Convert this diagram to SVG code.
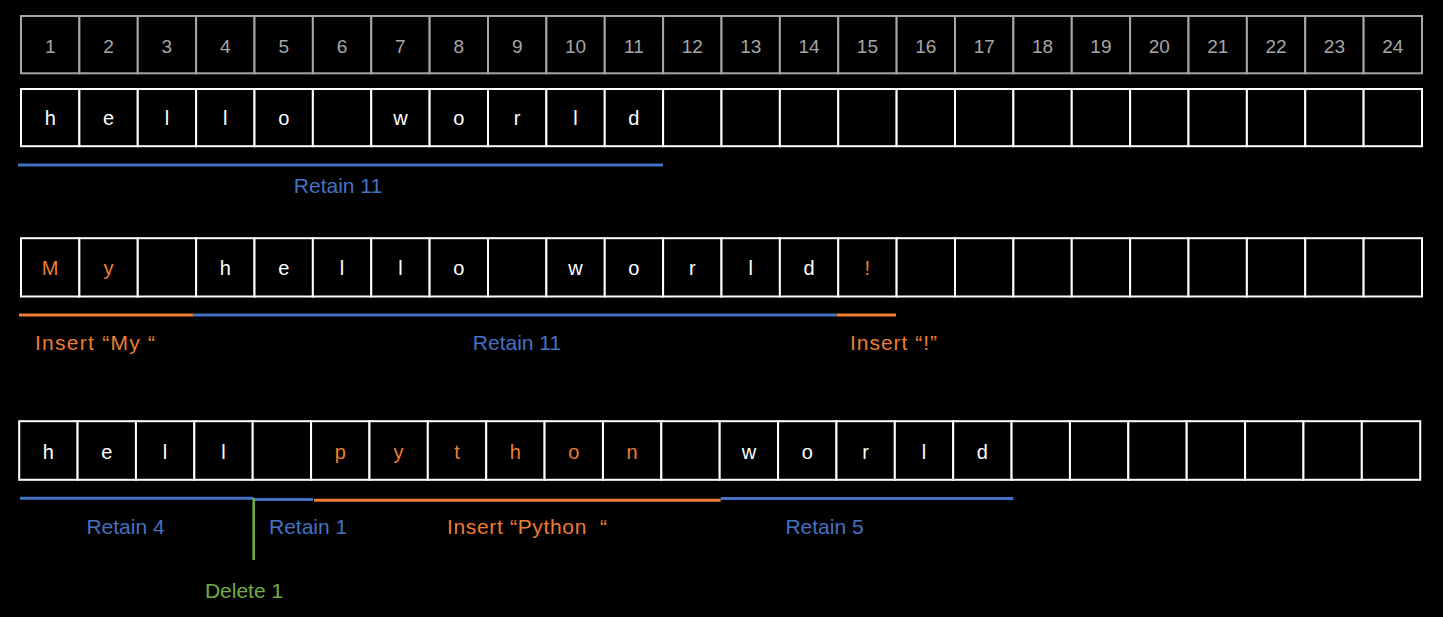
<svg xmlns="http://www.w3.org/2000/svg" width="1443" height="617" viewBox="0 0 1443 617">
<style>
.bg{fill:#000}
.c0{fill:#000;stroke:#a6a6a6;stroke-width:2}
.c{fill:#000;stroke:#fff;stroke-width:2}
.num{font-family:"Liberation Sans",Arial,sans-serif;font-size:19px;fill:#a6a6a6;text-anchor:middle}
.ch{font-family:"Liberation Sans",Arial,sans-serif;font-size:20px;fill:#fff;text-anchor:middle}
.o{fill:#ed7d31}
.lb{font-family:"Liberation Sans",Arial,sans-serif;font-size:21px;white-space:pre}
.tb{fill:#4472c4}
.to{fill:#ed7d31}
.tg{fill:#70ad47}
.lnb{stroke:#4472c4;stroke-width:3;fill:none}
.lno{stroke:#ed7d31;stroke-width:3;fill:none}
.lng{stroke:#70ad47;stroke-width:2.5;fill:none}
</style>
<rect class="bg" x="0" y="0" width="1443" height="617"/>

<g id="row-index">
<rect class="c0" x="21" y="16" width="58.375" height="57.3"/>
<rect class="c0" x="79.375" y="16" width="58.375" height="57.3"/>
<rect class="c0" x="137.75" y="16" width="58.375" height="57.3"/>
<rect class="c0" x="196.125" y="16" width="58.375" height="57.3"/>
<rect class="c0" x="254.5" y="16" width="58.375" height="57.3"/>
<rect class="c0" x="312.875" y="16" width="58.375" height="57.3"/>
<rect class="c0" x="371.25" y="16" width="58.375" height="57.3"/>
<rect class="c0" x="429.625" y="16" width="58.375" height="57.3"/>
<rect class="c0" x="488" y="16" width="58.375" height="57.3"/>
<rect class="c0" x="546.375" y="16" width="58.375" height="57.3"/>
<rect class="c0" x="604.75" y="16" width="58.375" height="57.3"/>
<rect class="c0" x="663.125" y="16" width="58.375" height="57.3"/>
<rect class="c0" x="721.5" y="16" width="58.375" height="57.3"/>
<rect class="c0" x="779.875" y="16" width="58.375" height="57.3"/>
<rect class="c0" x="838.25" y="16" width="58.375" height="57.3"/>
<rect class="c0" x="896.625" y="16" width="58.375" height="57.3"/>
<rect class="c0" x="955" y="16" width="58.375" height="57.3"/>
<rect class="c0" x="1013.375" y="16" width="58.375" height="57.3"/>
<rect class="c0" x="1071.75" y="16" width="58.375" height="57.3"/>
<rect class="c0" x="1130.125" y="16" width="58.375" height="57.3"/>
<rect class="c0" x="1188.5" y="16" width="58.375" height="57.3"/>
<rect class="c0" x="1246.875" y="16" width="58.375" height="57.3"/>
<rect class="c0" x="1305.25" y="16" width="58.375" height="57.3"/>
<rect class="c0" x="1363.625" y="16" width="58.375" height="57.3"/>
<text class="num" x="50.2" y="53">1</text>
<text class="num" x="108.6" y="53">2</text>
<text class="num" x="166.9" y="53">3</text>
<text class="num" x="225.3" y="53">4</text>
<text class="num" x="283.7" y="53">5</text>
<text class="num" x="342.1" y="53">6</text>
<text class="num" x="400.4" y="53">7</text>
<text class="num" x="458.8" y="53">8</text>
<text class="num" x="517.2" y="53">9</text>
<text class="num" x="575.6" y="53">10</text>
<text class="num" x="633.9" y="53">11</text>
<text class="num" x="692.3" y="53">12</text>
<text class="num" x="750.7" y="53">13</text>
<text class="num" x="809.1" y="53">14</text>
<text class="num" x="867.4" y="53">15</text>
<text class="num" x="925.8" y="53">16</text>
<text class="num" x="984.2" y="53">17</text>
<text class="num" x="1042.6" y="53">18</text>
<text class="num" x="1100.9" y="53">19</text>
<text class="num" x="1159.3" y="53">20</text>
<text class="num" x="1217.7" y="53">21</text>
<text class="num" x="1276.1" y="53">22</text>
<text class="num" x="1334.4" y="53">23</text>
<text class="num" x="1392.8" y="53">24</text>
</g>

<g id="row-original">
<rect class="c" x="21" y="89" width="58.375" height="57.2"/>
<rect class="c" x="79.375" y="89" width="58.375" height="57.2"/>
<rect class="c" x="137.75" y="89" width="58.375" height="57.2"/>
<rect class="c" x="196.125" y="89" width="58.375" height="57.2"/>
<rect class="c" x="254.5" y="89" width="58.375" height="57.2"/>
<rect class="c" x="312.875" y="89" width="58.375" height="57.2"/>
<rect class="c" x="371.25" y="89" width="58.375" height="57.2"/>
<rect class="c" x="429.625" y="89" width="58.375" height="57.2"/>
<rect class="c" x="488" y="89" width="58.375" height="57.2"/>
<rect class="c" x="546.375" y="89" width="58.375" height="57.2"/>
<rect class="c" x="604.75" y="89" width="58.375" height="57.2"/>
<rect class="c" x="663.125" y="89" width="58.375" height="57.2"/>
<rect class="c" x="721.5" y="89" width="58.375" height="57.2"/>
<rect class="c" x="779.875" y="89" width="58.375" height="57.2"/>
<rect class="c" x="838.25" y="89" width="58.375" height="57.2"/>
<rect class="c" x="896.625" y="89" width="58.375" height="57.2"/>
<rect class="c" x="955" y="89" width="58.375" height="57.2"/>
<rect class="c" x="1013.375" y="89" width="58.375" height="57.2"/>
<rect class="c" x="1071.75" y="89" width="58.375" height="57.2"/>
<rect class="c" x="1130.125" y="89" width="58.375" height="57.2"/>
<rect class="c" x="1188.5" y="89" width="58.375" height="57.2"/>
<rect class="c" x="1246.875" y="89" width="58.375" height="57.2"/>
<rect class="c" x="1305.25" y="89" width="58.375" height="57.2"/>
<rect class="c" x="1363.625" y="89" width="58.375" height="57.2"/>
<text class="ch" x="50.2" y="125">h</text>
<text class="ch" x="108.6" y="125">e</text>
<text class="ch" x="166.9" y="125">l</text>
<text class="ch" x="225.3" y="125">l</text>
<text class="ch" x="283.7" y="125">o</text>
<text class="ch" x="400.4" y="125">w</text>
<text class="ch" x="458.8" y="125">o</text>
<text class="ch" x="517.2" y="125">r</text>
<text class="ch" x="575.6" y="125">l</text>
<text class="ch" x="633.9" y="125">d</text>
</g>

<g id="row-insert">
<rect class="c" x="21" y="238.2" width="58.375" height="58.3"/>
<rect class="c" x="79.375" y="238.2" width="58.375" height="58.3"/>
<rect class="c" x="137.75" y="238.2" width="58.375" height="58.3"/>
<rect class="c" x="196.125" y="238.2" width="58.375" height="58.3"/>
<rect class="c" x="254.5" y="238.2" width="58.375" height="58.3"/>
<rect class="c" x="312.875" y="238.2" width="58.375" height="58.3"/>
<rect class="c" x="371.25" y="238.2" width="58.375" height="58.3"/>
<rect class="c" x="429.625" y="238.2" width="58.375" height="58.3"/>
<rect class="c" x="488" y="238.2" width="58.375" height="58.3"/>
<rect class="c" x="546.375" y="238.2" width="58.375" height="58.3"/>
<rect class="c" x="604.75" y="238.2" width="58.375" height="58.3"/>
<rect class="c" x="663.125" y="238.2" width="58.375" height="58.3"/>
<rect class="c" x="721.5" y="238.2" width="58.375" height="58.3"/>
<rect class="c" x="779.875" y="238.2" width="58.375" height="58.3"/>
<rect class="c" x="838.25" y="238.2" width="58.375" height="58.3"/>
<rect class="c" x="896.625" y="238.2" width="58.375" height="58.3"/>
<rect class="c" x="955" y="238.2" width="58.375" height="58.3"/>
<rect class="c" x="1013.375" y="238.2" width="58.375" height="58.3"/>
<rect class="c" x="1071.75" y="238.2" width="58.375" height="58.3"/>
<rect class="c" x="1130.125" y="238.2" width="58.375" height="58.3"/>
<rect class="c" x="1188.5" y="238.2" width="58.375" height="58.3"/>
<rect class="c" x="1246.875" y="238.2" width="58.375" height="58.3"/>
<rect class="c" x="1305.25" y="238.2" width="58.375" height="58.3"/>
<rect class="c" x="1363.625" y="238.2" width="58.375" height="58.3"/>
<text class="ch o" x="50.2" y="275">M</text>
<text class="ch o" x="108.6" y="275">y</text>
<text class="ch" x="225.3" y="275">h</text>
<text class="ch" x="283.7" y="275">e</text>
<text class="ch" x="342.1" y="275">l</text>
<text class="ch" x="400.4" y="275">l</text>
<text class="ch" x="458.8" y="275">o</text>
<text class="ch" x="575.6" y="275">w</text>
<text class="ch" x="633.9" y="275">o</text>
<text class="ch" x="692.3" y="275">r</text>
<text class="ch" x="750.7" y="275">l</text>
<text class="ch" x="809.1" y="275">d</text>
<text class="ch o" x="867.4" y="275">!</text>
</g>

<g id="row-edit" transform="translate(-1.8,0)">
<rect class="c" x="21" y="421.2" width="58.375" height="58.6"/>
<rect class="c" x="79.375" y="421.2" width="58.375" height="58.6"/>
<rect class="c" x="137.75" y="421.2" width="58.375" height="58.6"/>
<rect class="c" x="196.125" y="421.2" width="58.375" height="58.6"/>
<rect class="c" x="254.5" y="421.2" width="58.375" height="58.6"/>
<rect class="c" x="312.875" y="421.2" width="58.375" height="58.6"/>
<rect class="c" x="371.25" y="421.2" width="58.375" height="58.6"/>
<rect class="c" x="429.625" y="421.2" width="58.375" height="58.6"/>
<rect class="c" x="488" y="421.2" width="58.375" height="58.6"/>
<rect class="c" x="546.375" y="421.2" width="58.375" height="58.6"/>
<rect class="c" x="604.75" y="421.2" width="58.375" height="58.6"/>
<rect class="c" x="663.125" y="421.2" width="58.375" height="58.6"/>
<rect class="c" x="721.5" y="421.2" width="58.375" height="58.6"/>
<rect class="c" x="779.875" y="421.2" width="58.375" height="58.6"/>
<rect class="c" x="838.25" y="421.2" width="58.375" height="58.6"/>
<rect class="c" x="896.625" y="421.2" width="58.375" height="58.6"/>
<rect class="c" x="955" y="421.2" width="58.375" height="58.6"/>
<rect class="c" x="1013.375" y="421.2" width="58.375" height="58.6"/>
<rect class="c" x="1071.75" y="421.2" width="58.375" height="58.6"/>
<rect class="c" x="1130.125" y="421.2" width="58.375" height="58.6"/>
<rect class="c" x="1188.5" y="421.2" width="58.375" height="58.6"/>
<rect class="c" x="1246.875" y="421.2" width="58.375" height="58.6"/>
<rect class="c" x="1305.25" y="421.2" width="58.375" height="58.6"/>
<rect class="c" x="1363.625" y="421.2" width="58.375" height="58.6"/>
<text class="ch" x="50.2" y="458.5">h</text>
<text class="ch" x="108.6" y="458.5">e</text>
<text class="ch" x="166.9" y="458.5">l</text>
<text class="ch" x="225.3" y="458.5">l</text>
<text class="ch o" x="342.1" y="458.5">p</text>
<text class="ch o" x="400.4" y="458.5">y</text>
<text class="ch o" x="458.8" y="458.5">t</text>
<text class="ch o" x="517.2" y="458.5">h</text>
<text class="ch o" x="575.6" y="458.5">o</text>
<text class="ch o" x="633.9" y="458.5">n</text>
<text class="ch" x="750.7" y="458.5">w</text>
<text class="ch" x="809.1" y="458.5">o</text>
<text class="ch" x="867.4" y="458.5">r</text>
<text class="ch" x="925.8" y="458.5">l</text>
<text class="ch" x="984.2" y="458.5">d</text>
</g>

<g id="connectors">
<line class="lnb" x1="18" y1="165" x2="663" y2="165"/>
<line class="lno" x1="19" y1="315" x2="193.5" y2="315"/>
<line class="lnb" x1="193.5" y1="315" x2="836.5" y2="315"/>
<line class="lno" x1="836.5" y1="315" x2="896" y2="315"/>
<line class="lnb" x1="20" y1="498.3" x2="253.5" y2="498.3"/>
<line class="lnb" x1="253.5" y1="499.5" x2="313" y2="499.5"/>
<line class="lno" x1="314" y1="500.3" x2="720.7" y2="500.3"/>
<line class="lnb" x1="720.7" y1="498.5" x2="1013.3" y2="498.5"/>
<line class="lng" x1="253.7" y1="498" x2="253.7" y2="560"/>
</g>

<g id="labels">
<text class="lb tb" x="338" y="193" text-anchor="middle">Retain 11</text>
<text class="lb to" x="35" y="350" textLength="120" lengthAdjust="spacing">Insert “My “</text>
<text class="lb tb" x="517" y="350" text-anchor="middle">Retain 11</text>
<text class="lb to" x="850" y="350" textLength="87" lengthAdjust="spacing">Insert “!”</text>
<text class="lb tb" x="125.5" y="534" text-anchor="middle">Retain 4</text>
<text class="lb tb" x="269" y="534">Retain 1</text>
<text class="lb to" x="447" y="534" xml:space="preserve" textLength="160" lengthAdjust="spacing">Insert “Python  “</text>
<text class="lb tb" x="824.5" y="534" text-anchor="middle">Retain 5</text>
<text class="lb tg" x="244" y="598" text-anchor="middle">Delete 1</text>
</g>
</svg>
